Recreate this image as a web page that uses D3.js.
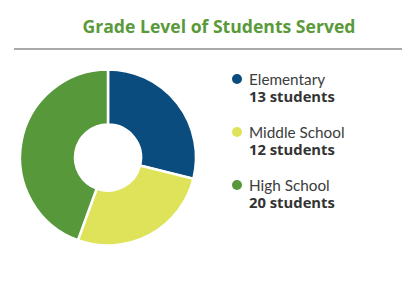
<!DOCTYPE html>
<html>
<head>
<meta charset="utf-8">
<script src="https://cdn.jsdelivr.net/npm/d3@7"></script>
<style>
  body { margin: 0; background: #fff; }
  svg { display: block; }
  .title { font-family: "Open Sans", sans-serif; font-weight: 700; font-size: 17.6px; fill: #5a9a3a; }
  .lbl { font-family: "Lato", sans-serif; font-weight: 400; font-size: 15.3px; fill: #3c3c3c; }
  .val { font-family: "Open Sans", sans-serif; font-weight: 700; font-size: 14.8px; fill: #333; }
</style>
</head>
<body>
<div id="chart"></div>
<script>
var width = 402,
    height = 287;

var categories = ["Elementary", "Middle School", "High School"];
var students = [13, 12, 20];
var colors = ["#0b4c7e", "#dfe35a", "#56983a"];

var data = categories.map(function(c, i) {
    return {name: c, value: students[i], color: colors[i]};
});

var svg = d3.select("#chart").append("svg")
    .attr("width", width)
    .attr("height", height);

// title and rule under it
svg.append("text")
    .attr("class", "title")
    .attr("x", 219)
    .attr("y", 33)
    .attr("text-anchor", "middle")
    .text("Grade Level of Students Served");

svg.append("line")
    .attr("x1", 14)
    .attr("x2", 402)
    .attr("y1", 49)
    .attr("y2", 49)
    .attr("stroke", "#555")
    .attr("stroke-width", 1.2);

// donut
var pie = d3.pie()
    .sort(null)
    .value(function(d) { return d.value; });

var arc = d3.arc()
    .innerRadius(33)
    .outerRadius(88);

var g = svg.append("g")
    .attr("transform", "translate(108,157.5)");

g.selectAll("path")
    .data(pie(data))
    .enter()
    .append("path")
    .attr("d", arc)
    .attr("fill", function(d) { return d.data.color; })
    .attr("stroke", "#fff")
    .attr("stroke-width", 2.5);

// legend
var legend = svg.append("g")
    .attr("transform", "translate(237,79)");

var item = legend.selectAll("g")
    .data(data)
    .enter()
    .append("g")
    .attr("transform", function(d, i) { return "translate(0," + (i * 53) + ")"; });

item.append("circle")
    .attr("r", 5)
    .attr("fill", function(d) { return d.color; });

item.append("text")
    .attr("class", "lbl")
    .attr("x", 12)
    .attr("y", 5.5)
    .text(function(d) { return d.name; });

item.append("text")
    .attr("class", "val")
    .attr("x", 12)
    .attr("y", 23)
    .text(function(d) { return d.value + " students"; });
</script>
</body>
</html>
